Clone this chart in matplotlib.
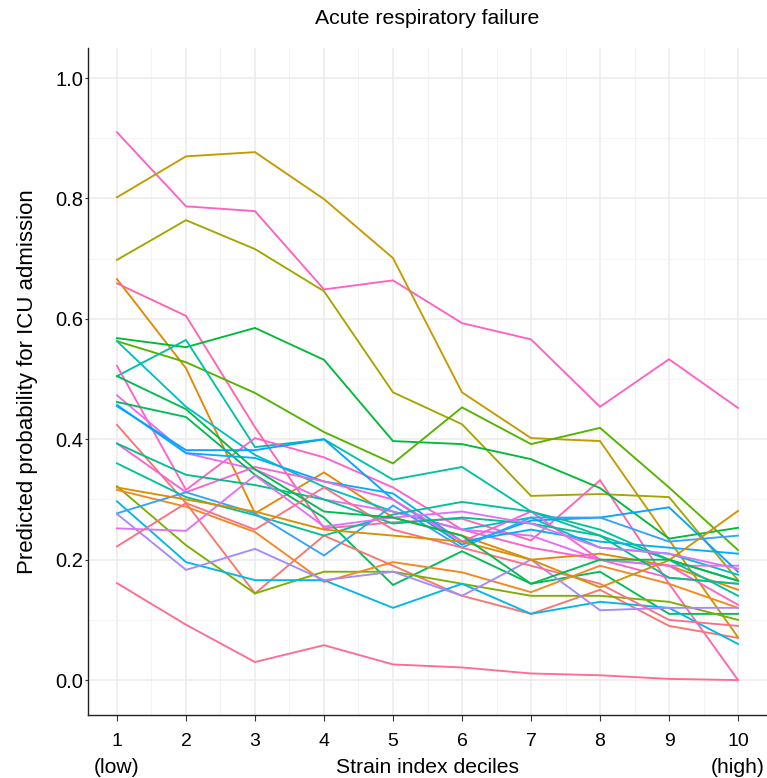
import numpy as np
import matplotlib
matplotlib.use('Agg')
import matplotlib.pyplot as plt
from matplotlib.ticker import MultipleLocator

DECILES = list(range(1, 11))
TICK_LABELS = [str(d) for d in DECILES]

# predicted probabilities, one list per model
P01 = [0.161, 0.092, 0.030, 0.058, 0.026, 0.021, 0.011, 0.008, 0.002, 0.000]
P02 = [0.910, 0.787, 0.779, 0.649, 0.664, 0.593, 0.566, 0.454, 0.533, 0.452]
P03 = [0.802, 0.870, 0.877, 0.799, 0.701, 0.478, 0.402, 0.397, 0.233, 0.071]
P04 = [0.698, 0.764, 0.716, 0.646, 0.478, 0.425, 0.306, 0.309, 0.304, 0.166]
P05 = [0.666, 0.518, 0.277, 0.345, 0.270, 0.240, 0.200, 0.210, 0.190, 0.150]
P06 = [0.659, 0.605, 0.420, 0.252, 0.262, 0.268, 0.232, 0.332, 0.160, 0.000]
P07 = [0.568, 0.553, 0.585, 0.532, 0.397, 0.392, 0.367, 0.319, 0.235, 0.253]
P08 = [0.563, 0.528, 0.477, 0.412, 0.360, 0.453, 0.392, 0.419, 0.320, 0.216]
P09 = [0.563, 0.454, 0.374, 0.321, 0.280, 0.250, 0.270, 0.220, 0.210, 0.175]
P10 = [0.505, 0.565, 0.387, 0.400, 0.333, 0.354, 0.280, 0.240, 0.200, 0.165]
P11 = [0.522, 0.316, 0.402, 0.370, 0.320, 0.250, 0.220, 0.200, 0.190, 0.125]
P12 = [0.473, 0.377, 0.350, 0.300, 0.280, 0.250, 0.240, 0.200, 0.190, 0.190]
P13 = [0.462, 0.437, 0.341, 0.270, 0.158, 0.214, 0.160, 0.180, 0.110, 0.110]
P14 = [0.457, 0.377, 0.369, 0.330, 0.310, 0.230, 0.250, 0.230, 0.220, 0.210]
P15 = [0.455, 0.382, 0.382, 0.400, 0.300, 0.225, 0.265, 0.270, 0.287, 0.180]
P16 = [0.424, 0.294, 0.144, 0.240, 0.190, 0.140, 0.110, 0.150, 0.090, 0.070]
P17 = [0.393, 0.312, 0.354, 0.330, 0.300, 0.230, 0.280, 0.200, 0.170, 0.160]
P18 = [0.393, 0.341, 0.324, 0.300, 0.260, 0.270, 0.260, 0.240, 0.170, 0.160]
P19 = [0.360, 0.304, 0.274, 0.240, 0.275, 0.296, 0.280, 0.250, 0.200, 0.140]
P20 = [0.322, 0.224, 0.144, 0.180, 0.180, 0.160, 0.140, 0.140, 0.130, 0.100]
P21 = [0.316, 0.288, 0.246, 0.163, 0.196, 0.179, 0.146, 0.190, 0.160, 0.120]
P22 = [0.297, 0.196, 0.166, 0.166, 0.120, 0.160, 0.110, 0.130, 0.120, 0.060]
P23 = [0.277, 0.312, 0.277, 0.207, 0.290, 0.220, 0.270, 0.270, 0.230, 0.240]
P24 = [0.276, 0.183, 0.218, 0.166, 0.180, 0.140, 0.200, 0.116, 0.120, 0.120]
P25 = [0.252, 0.248, 0.340, 0.255, 0.270, 0.280, 0.260, 0.220, 0.210, 0.185]
P26 = [0.222, 0.294, 0.250, 0.320, 0.250, 0.220, 0.190, 0.160, 0.100, 0.090]
P27 = [0.320, 0.300, 0.280, 0.250, 0.240, 0.230, 0.200, 0.154, 0.199, 0.281]
P28 = [0.505, 0.450, 0.350, 0.280, 0.270, 0.240, 0.160, 0.200, 0.200, 0.165]

series = [P01, P02, P03, P04, P05, P06, P07, P08, P09, P10, P11, P12, P13, P14,
          P15, P16, P17, P18, P19, P20, P21, P22, P23, P24, P25, P26, P27, P28]
colors = ['#FF6C91', '#FF61C3', '#C49A00', '#A3A500', '#E58700', '#FF64B0',
          '#00BA38', '#53B400', '#00BFC4', '#00C1A3', '#FF61C9', '#E76BF3',
          '#00BC56', '#00B0F6', '#06A4FF', '#F8766D', '#FB61D7', '#00C08B',
          '#00C19A', '#7CAE00', '#F8861E', '#00B8E7', '#35A2FF', '#A58AFF',
          '#DF70F8', '#FD6F85', '#D89000', '#00BB4E']

plt.rcParams['font.family'] = ['Liberation Sans', 'DejaVu Sans']

fig = plt.figure(figsize=(7.67, 7.78), dpi=100)
ax = fig.add_axes([88 / 767, 63 / 778, 679 / 767, 667 / 778])

for vals, c in zip(series, colors):
    ax.plot(DECILES, vals, color=c, lw=1.35, solid_joinstyle='miter')

ax.set_xlim(0.58, 10.42)
ax.set_ylim(-0.058, 1.05)
ax.set_xticks(DECILES)
ax.set_xticklabels(TICK_LABELS)
ax.set_yticks([0.0, 0.2, 0.4, 0.6, 0.8, 1.0])
ax.set_yticklabels(['0.0', '0.2', '0.4', '0.6', '0.8', '1.0'])
ax.xaxis.set_minor_locator(MultipleLocator(0.5))
ax.yaxis.set_minor_locator(MultipleLocator(0.1))
ax.grid(which='major', color='#EBEBEB', lw=1.1)
ax.grid(which='minor', color='#F2F2F2', lw=0.6)
ax.set_axisbelow(True)
ax.tick_params(which='minor', length=0)
ax.tick_params(axis='x', which='major', length=4, width=0.8, color='#333333',
               labelsize=14, labelcolor='black', pad=9)
ax.tick_params(axis='y', which='major', length=2, width=0.8, color='#333333',
               labelsize=14.5, labelcolor='black', pad=1.5)
for s in ['top', 'right']:
    ax.spines[s].set_visible(False)
for s in ['left', 'bottom']:
    ax.spines[s].set_color('#222222')
    ax.spines[s].set_linewidth(1.0)

ax.set_ylabel('Predicted probability for ICU admission', fontsize=16, labelpad=12)
ax.set_title('Acute respiratory failure', fontsize=15.3, pad=17)
ax.text(0.5, -0.079, 'Strain index deciles', transform=ax.transAxes,
        ha='center', va='center', fontsize=15.2)
ax.text(1, -0.079, '(low)', transform=ax.get_xaxis_transform(),
        ha='center', va='center', fontsize=15.2)
ax.text(10, -0.079, '(high)', transform=ax.get_xaxis_transform(),
        ha='center', va='center', fontsize=15.2)

fig.savefig('out.png', dpi=100)
